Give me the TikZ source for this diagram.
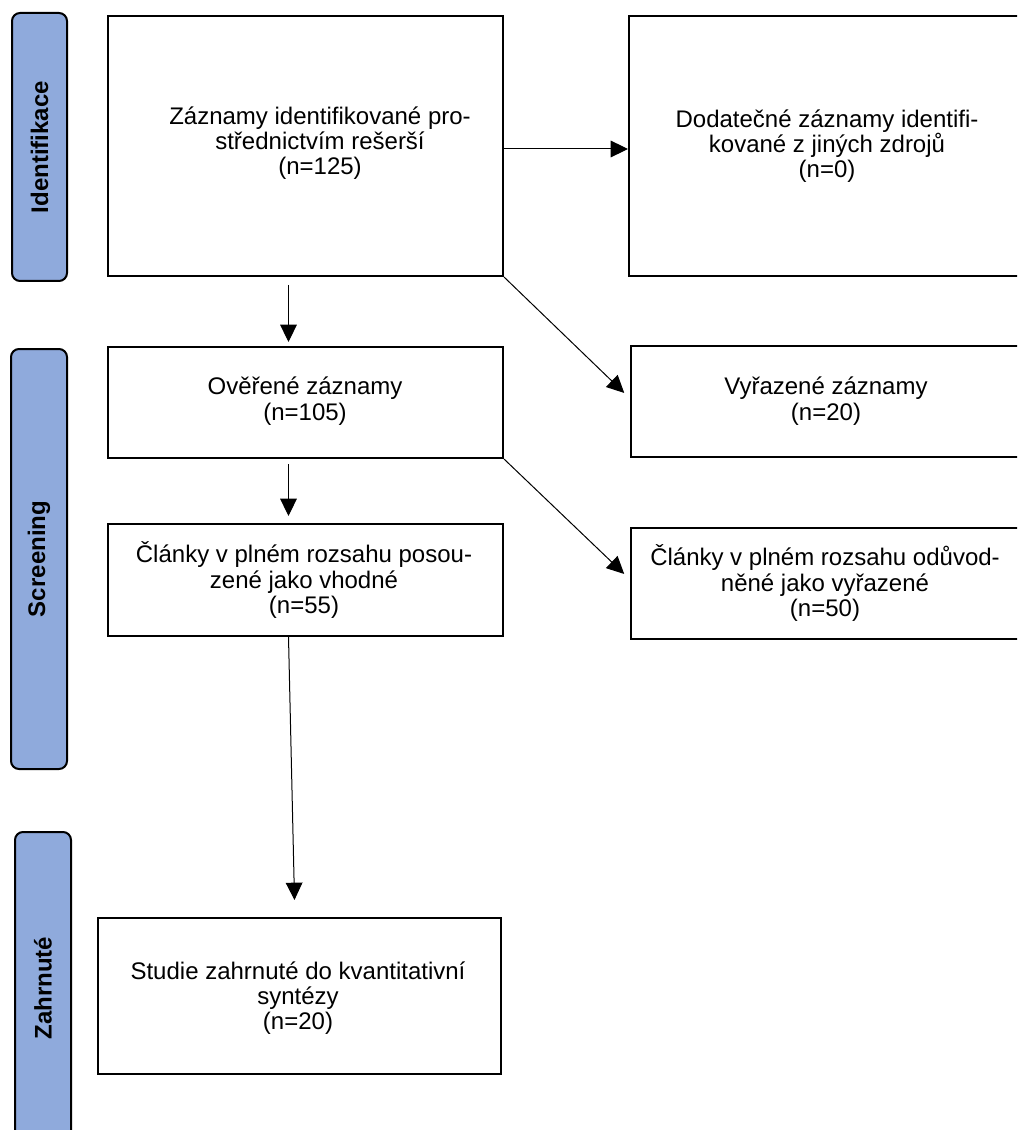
\documentclass[tikz,border=0pt]{standalone}
\usepackage{fontspec}
\setmainfont{Liberation Sans}
\usetikzlibrary{arrows.meta,calc}
\definecolor{barblue}{HTML}{8FAADC}
\begin{document}
\begin{tikzpicture}[x=0.75pt,y=-0.75pt,
  box/.style={draw=black,line width=1.5pt,inner sep=0pt,anchor=north west},
  bar/.style={draw=black,fill=barblue,line width=1.5pt,rounded corners=6pt,inner sep=0pt,anchor=north west},
  barlabel/.style={rotate=90,font=\fontsize{18}{20}\selectfont\bfseries},
  txt/.style={align=center,font=\fontsize{18}{19}\selectfont,inner sep=0pt},
  arr/.style={line width=0.75pt,-{Triangle[length=13pt,width=12.5pt]}}]
\path[use as bounding box,clip] (0,0) rectangle (1017,1130);
% side bars
\node[bar,minimum width=41.25pt,minimum height=201pt] (s1) at (11,12) {};
\node[bar,minimum width=42pt,minimum height=315pt] (s2) at (10,348) {};
\node[bar,minimum width=42pt,minimum height=235.5pt] (s3) at (14,831) {};
\node[barlabel] (l1) at (s1.center) {Identifikace};
\node[barlabel] (l2) at (s2.center) {Screening};
\node[barlabel] (l3) at ($(s3.center)+(0,-1)$) {Zahrnuté};
% boxes
\node[box,minimum width=296.25pt,minimum height=195pt] (b1) at (107,15) {};
\node[box,minimum width=309pt,minimum height=195pt] (b2) at (628,15) {};
\node[box,minimum width=296.25pt,minimum height=83.25pt] (b3) at (107,346) {};
\node[box,minimum width=309pt,minimum height=83.25pt] (b4) at (630,345) {};
\node[box,minimum width=296.25pt,minimum height=84pt] (b5) at (107,523) {};
\node[box,minimum width=309pt,minimum height=83.25pt] (b6) at (630,527) {};
\node[box,minimum width=302.25pt,minimum height=117pt] (b7) at (97,917) {};
% texts
\node[txt] (t1) at (320,143) {Záznamy identifikované pro-\\střednictvím rešerší\\(n=125)};
\node[txt] (t2) at (827,146) {Dodatečné záznamy identifi-\\kované z jiných zdrojů\\(n=0)};
\node[txt] (t3) at (305,401) {Ověřené záznamy\\(n=105)};
\node[txt] (t4) at (826,401) {Vyřazené záznamy\\(n=20)};
\node[txt] (t5) at (304,580) {Články v plném rozsahu posou-\\zené jako vhodné\\(n=55)};
\node[txt] (t6) at (825,583) {Články v plném rozsahu odůvod-\\něné jako vyřazené\\(n=50)};
\node[txt] (t7) at (298,998) {Studie zahrnuté do kvantitativní\\syntézy\\(n=20)};
% connectors
\draw[arr] ($(b1.east)+(0,3)$) -- ($(b2.west)+(0,3)$);
\draw[arr,shorten >=6pt] (b1.south east) -- ($(b4.west)+(0,-3)$);
\draw[arr] ($(b1.south)+(-17,8)$) -- ($(b3.north)+(-17,-4)$);
\draw[arr] ($(b3.south)+(-17,5)$) -- ($(b5.north)+(-17,-7)$);
\draw[arr,shorten >=6pt] (b3.south east) -- ($(b6.west)+(0,-4)$);
\draw[arr] ($(b5.south)+(-17,0)$) -- ($(b7.north)+(-5,-17)$);
\end{tikzpicture}
\end{document}
